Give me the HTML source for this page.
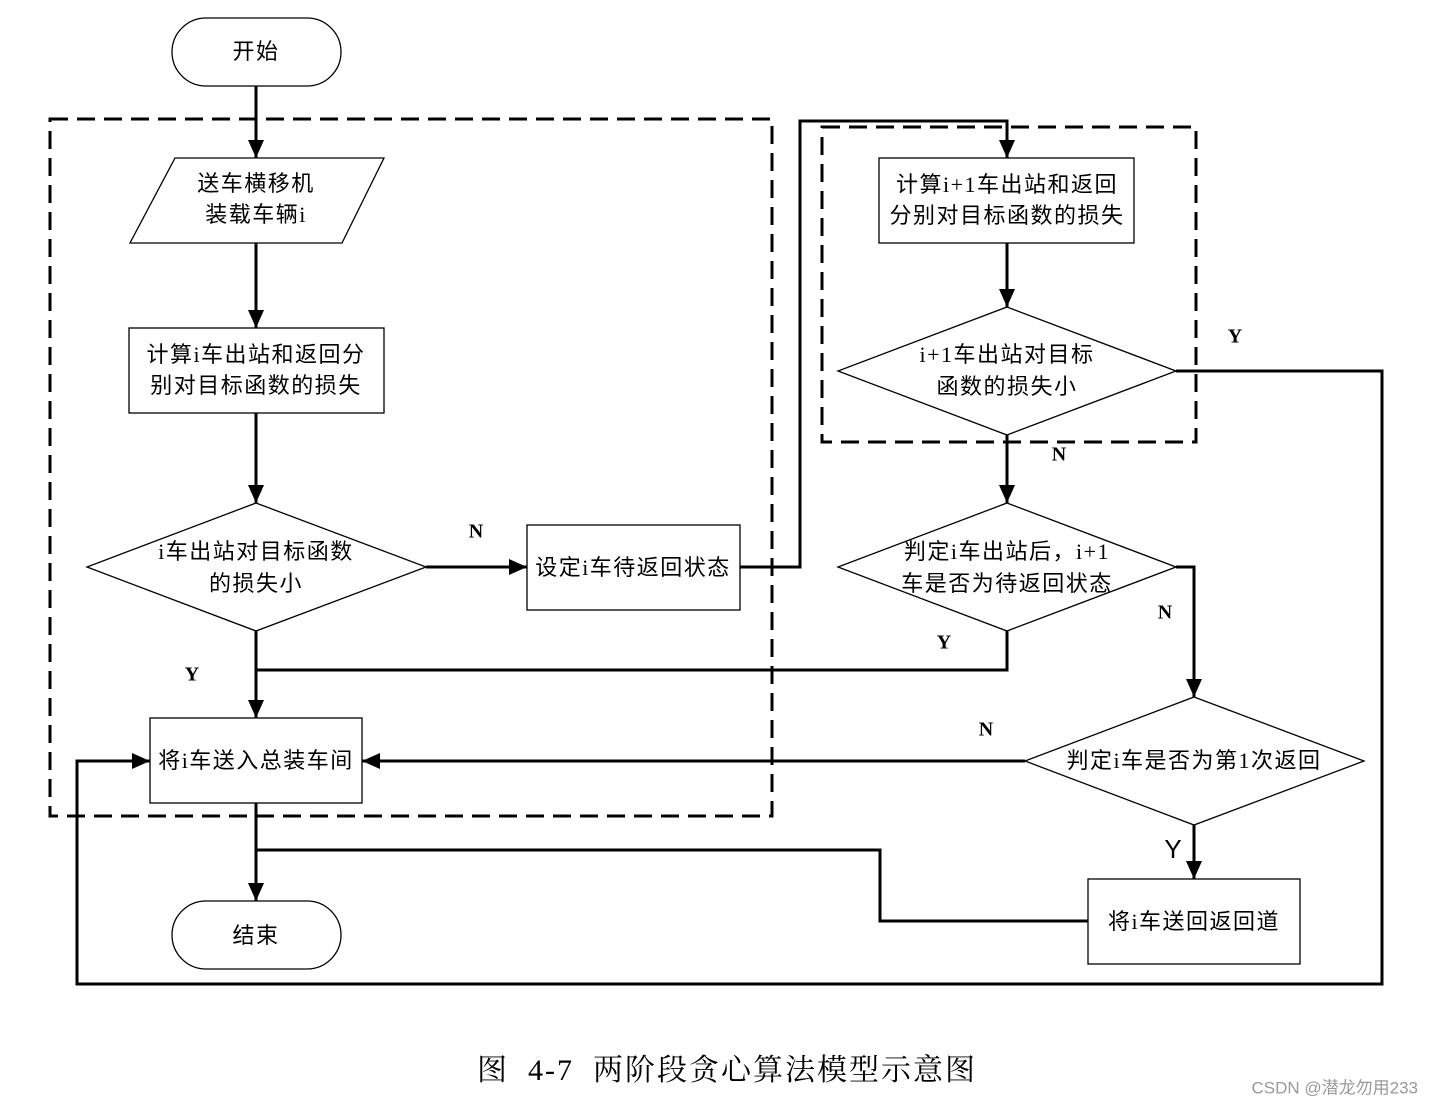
<!DOCTYPE html>
<html><head><meta charset="utf-8"><style>
html,body{margin:0;padding:0;background:#fff;}
svg{display:block;}
text{font-family:"Liberation Serif","Noto Sans CJK SC",sans-serif;font-size:22px;letter-spacing:1.5px;fill:#000;text-anchor:middle;dominant-baseline:middle;}
.b{font-weight:bold;font-size:20px;letter-spacing:0;}
</style></head><body>
<svg width="1433" height="1108" viewBox="0 0 1433 1108" xmlns="http://www.w3.org/2000/svg">
<defs><marker id="m" markerWidth="20" markerHeight="20" refX="18" refY="8" orient="auto" markerUnits="userSpaceOnUse"><path d="M0,0 L18,8 L0,16 z" fill="#000"/></marker></defs>
<g fill="none" stroke="#000" stroke-width="3">
<rect x="50" y="119" width="722" height="697" stroke-dasharray="18,9"/>
<rect x="822" y="127" width="374" height="315" stroke-dasharray="18,9"/>
</g>
<g fill="#fff" stroke="#000" stroke-width="1.3">
<rect x="172" y="18" width="169" height="68" rx="34"/>
<polygon points="175,158 384,158 342,243 130,243"/>
<rect x="129" y="328" width="255" height="85"/>
<polygon points="256,503 426,567 256,631 87,567"/>
<rect x="527" y="525" width="213" height="85"/>
<rect x="879" y="158" width="255" height="85"/>
<polygon points="1007,307 1176,371 1007,435 838,371"/>
<polygon points="1007,503 1176,567 1007,631 838,567"/>
<rect x="150" y="718" width="212" height="85"/>
<polygon points="1194,697 1364,761 1194,825 1025,761"/>
<rect x="1088" y="879" width="212" height="85"/>
<rect x="172" y="901" width="169" height="68" rx="34"/>
</g>
<g fill="none" stroke="#000" stroke-width="3" marker-end="url(#m)">
<path d="M256,86 V158"/>
<path d="M256,243 V328"/>
<path d="M256,413 V503"/>
<path d="M426,567 H527"/>
<path d="M740,567 H800 V121 H1007 V158"/>
<path d="M1007,243 V307"/>
<path d="M1176,371 H1382 V984 H77 V761 H150"/>
<path d="M1007,435 V503"/>
<path d="M1176,567 H1194 V697"/>
<path d="M256,631 V718"/>
<path d="M1025,761 H362"/>
<path d="M1194,825 V879"/>
<path d="M256,803 V901"/>
</g>
<g fill="none" stroke="#000" stroke-width="3">
<path d="M1007,631 V670 H256"/>
<path d="M1088,921 H880 V850 H256"/>
</g>
<text x="256" y="54">开始</text>
<text x="256" y="186">送车横移机</text>
<text x="256" y="217">装载车辆i</text>
<text x="256" y="357">计算i车出站和返回分</text>
<text x="256" y="388">别对目标函数的损失</text>
<text x="256" y="554">i车出站对目标函数</text>
<text x="256" y="586">的损失小</text>
<text x="633" y="570">设定i车待返回状态</text>
<text x="1007" y="187">计算i+1车出站和返回</text>
<text x="1007" y="218">分别对目标函数的损失</text>
<text x="1007" y="357">i+1车出站对目标</text>
<text x="1007" y="389">函数的损失小</text>
<text x="1007" y="554">判定i车出站后，i+1</text>
<text x="1007" y="586">车是否为待返回状态</text>
<text x="256" y="763">将i车送入总装车间</text>
<text x="1194" y="763">判定i车是否为第1次返回</text>
<text x="1194" y="924">将i车送回返回道</text>
<text x="256" y="938">结束</text>
<text class="b" x="476" y="533">N</text>
<text class="b" x="192" y="676">Y</text>
<text class="b" x="1235" y="338">Y</text>
<text class="b" x="1059" y="456">N</text>
<text class="b" x="1165" y="614">N</text>
<text class="b" x="944" y="644">Y</text>
<text class="b" x="986" y="731">N</text>
<text x="1173" y="851" style="font-family:'Liberation Sans',sans-serif;font-size:26px;letter-spacing:0">Y</text>
<text x="727" y="1073" style="font-family:'Liberation Serif','Noto Serif CJK SC',serif;font-size:30px;letter-spacing:2px" xml:space="preserve">图  4-7  两阶段贪心算法模型示意图</text>
<text x="1418" y="1089" style="font-family:'Liberation Sans','Noto Sans CJK SC',sans-serif;font-size:17px;letter-spacing:0;fill:#999;text-anchor:end">CSDN @潜龙勿用233</text>
</svg>
</body></html>
